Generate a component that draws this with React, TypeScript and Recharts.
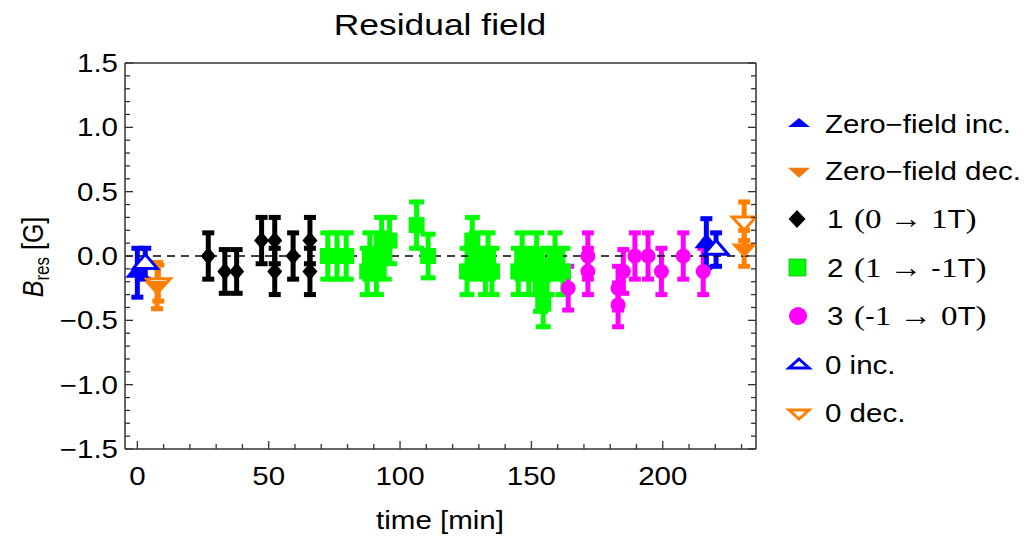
import React from "react";
import {
  ScatterChart,
  Scatter,
  XAxis,
  YAxis,
  ErrorBar,
  ReferenceLine,
  Legend,
} from "recharts";

// Residual field B_res [G] vs time [min]; each row is [time, B_res, error]
const ZERO_FIELD_INC: number[][] = [
  [0, -0.13, 0.19],
  [216.6, 0.1, 0.19],
];
const ZERO_FIELD_DEC: number[][] = [
  [7.5, -0.23, 0.18],
  [231, 0.06, 0.14],
];
const RAMP_1: number[][] = [
  [27, 0, 0.18], [33.3, -0.12, 0.17], [37.8, -0.12, 0.17],
  [47.3, 0.12, 0.18], [52.3, 0.12, 0.18], [52.3, -0.12, 0.18],
  [59.3, 0, 0.18], [65.7, 0.12, 0.18], [65.7, -0.12, 0.18],
];
const RAMP_2: number[][] = [
  [72.5, 0, 0.18], [76, 0, 0.18], [79.5, 0, 0.18],
  [87.5, -0.12, 0.18], [88.5, 0, 0.18], [91, -0.12, 0.18],
  [93, 0.12, 0.18], [94, 0, 0.18], [96, 0.12, 0.18],
  [106.3, 0.24, 0.18], [110.7, 0, 0.17],
  [125.5, -0.12, 0.18], [127.5, 0.12, 0.18], [129, 0, 0.18],
  [132.5, -0.12, 0.18], [133.5, 0, 0.18], [135, -0.12, 0.18],
  [145, -0.12, 0.18], [146.5, 0, 0.18], [149, -0.12, 0.18],
  [152, 0, 0.18], [153.5, -0.25, 0.18], [154.5, -0.37, 0.18],
  [156, -0.12, 0.18], [159, 0, 0.18], [162, -0.12, 0.18],
];
const RAMP_3: number[][] = [
  [164, -0.25, 0.17], [171.5, 0, 0.18], [171.5, -0.12, 0.18],
  [183, -0.25, 0.17], [183, -0.38, 0.17], [185, -0.12, 0.17],
  [189.4, 0, 0.18], [194.4, 0, 0.18], [199.5, -0.12, 0.18],
  [207.8, 0, 0.18], [215.4, -0.12, 0.18],
];
const ZERO_INC: number[][] = [
  [3, -0.06, 0.12],
  [220.3, 0.05, 0.13],
];
const ZERO_DEC: number[][] = [
  [8, -0.21, 0.14],
  [231, 0.27, 0.15],
];

const X_TICKS = [0, 10, 20, 30, 40, 50, 60, 70, 80, 90, 100, 110, 120, 130, 140, 150, 160, 170, 180, 190, 200, 210, 220, 230];
const X_MAJOR = [0, 50, 100, 150, 200];
const Y_TICKS = [
  -1.5, -1.4, -1.3, -1.2, -1.1, -1.0, -0.9, -0.8, -0.7, -0.6, -0.5, -0.4, -0.3, -0.2, -0.1,
  0, 0.1, 0.2, 0.3, 0.4, 0.5, 0.6, 0.7, 0.8, 0.9, 1.0, 1.1, 1.2, 1.3, 1.4, 1.5,
];
const Y_MAJOR = [-1.5, -1.0, -0.5, 0, 0.5, 1.0, 1.5];
const Y_LABELS = ["−1.5", "−1.0", "−0.5", "0.0", "0.5", "1.0", "1.5"];

const SANS = "'Liberation Sans', Arial, Helvetica, sans-serif";
const SERIF = "'Liberation Serif', 'Times New Roman', serif";
const SX = 1.18; // source picture is a bit stretched horizontally
const FRAME = "#333";

const BLUE = "#0000ff";
const ORANGE = "#ff8000";
const GREEN = "#00ff00";
const MAGENTA = "#ff00ff";

const toPoints = (rows: number[][]) => rows.map(([t, b, e]) => ({ t, b, e }));

function SText({ x, y, size, anchor = "start", family = SANS, children }: any) {
  return (
    <text
      transform={`translate(${x} ${y}) scale(${SX} 1)`}
      textAnchor={anchor}
      fontSize={size}
      fontFamily={family}
      fill="#000"
    >
      {children}
    </text>
  );
}

// ---- markers ----
function Tri({ cx, cy, up, w, h, color, open }: any) {
  const d = up
    ? `M${cx},${cy - (2 * h) / 3} L${cx + w},${cy + h / 3} L${cx - w},${cy + h / 3} Z`
    : `M${cx},${cy + (2 * h) / 3} L${cx + w},${cy - h / 3} L${cx - w},${cy - h / 3} Z`;
  return open ? (
    <path d={d} fill="#fff" stroke={color} strokeWidth={3} strokeLinejoin="miter" />
  ) : (
    <path d={d} fill={color} />
  );
}
function Diamond({ cx, cy, w, h, color }: any) {
  return <path d={`M${cx},${cy - h} L${cx + w},${cy} L${cx},${cy + h} L${cx - w},${cy} Z`} fill={color} />;
}
function Square({ cx, cy, s, color }: any) {
  return <rect x={cx - s / 2} y={cy - s / 2} width={s} height={s} fill={color} />;
}
function Dot({ cx, cy, r, color }: any) {
  return <circle cx={cx} cy={cy} r={r} fill={color} />;
}

// ---- ticks drawn inward, like a framed plot ----
function BottomTick({ x, y, payload }: any) {
  const major = X_MAJOR.includes(payload.value);
  return (
    <g>
      <line x1={x} x2={x} y1={y} y2={y - (major ? 8 : 5)} stroke={FRAME} strokeWidth={1.3} />
      {major && (
        <SText x={x} y={y + 36} size={25} anchor="middle">
          {payload.value}
        </SText>
      )}
    </g>
  );
}
function TopTick({ x, y, payload }: any) {
  const major = X_MAJOR.includes(payload.value);
  return <line x1={x} x2={x} y1={y} y2={y + (major ? 8 : 5)} stroke={FRAME} strokeWidth={1.3} />;
}
function yMajorIndex(v: number) {
  return Y_MAJOR.findIndex((m) => Math.abs(m - v) < 1e-6);
}
function LeftTick({ x, y, payload }: any) {
  const i = yMajorIndex(payload.value);
  return (
    <g>
      <line x1={x} x2={x + (i >= 0 ? 8 : 5)} y1={y} y2={y} stroke={FRAME} strokeWidth={1.3} />
      {i >= 0 && (
        <SText x={x - 7} y={y + 9} size={25} anchor="end">
          {Y_LABELS[i]}
        </SText>
      )}
    </g>
  );
}
function RightTick({ x, y, payload }: any) {
  const i = yMajorIndex(payload.value);
  return <line x1={x} x2={x - (i >= 0 ? 8 : 5)} y1={y} y2={y} stroke={FRAME} strokeWidth={1.3} />;
}

// ---- legend ----
const LEGEND_ROWS = [33, 80, 128, 177, 225, 274, 322];

function LegendContent() {
  const mx = 21;
  const tx = 47;
  const r = LEGEND_ROWS;
  return (
    <svg width={251} height={340} style={{ overflow: "visible" }}>
      <Tri cx={mx} cy={r[0] - 9} up w={11} h={9} color={BLUE} />
      <SText x={tx} y={r[0]} size={25}>Zero−field inc.</SText>

      <Tri cx={mx} cy={r[1] - 9} w={11} h={10} color="#f07a10" />
      <SText x={tx} y={r[1]} size={25}>Zero−field dec.</SText>

      <Diamond cx={mx - 2} cy={r[2] - 9} w={8.5} h={9} color="#000" />
      <SText x={tx + 2} y={r[2]} size={25}>
        1<tspan dx={9} fontFamily={SERIF} fontSize={28}>(0 → 1</tspan>T<tspan fontFamily={SERIF} fontSize={28}>)</tspan>
      </SText>

      <rect x={mx - 10} y={r[3] - 18} width={17} height={17} fill={GREEN} stroke="#20b020" strokeWidth={0.8} />
      <SText x={tx + 2} y={r[3]} size={25}>
        2<tspan dx={9} fontFamily={SERIF} fontSize={28}>(1 → </tspan>-<tspan fontFamily={SERIF} fontSize={28}>1</tspan>T<tspan fontFamily={SERIF} fontSize={28}>)</tspan>
      </SText>

      <Dot cx={mx - 1} cy={r[4] - 9} r={9} color={MAGENTA} />
      <SText x={tx + 2} y={r[4]} size={25}>
        3<tspan dx={9} fontFamily={SERIF} fontSize={28}>(</tspan>-<tspan fontFamily={SERIF} fontSize={28}>1 → 0</tspan>T<tspan fontFamily={SERIF} fontSize={28}>)</tspan>
      </SText>

      <Tri cx={mx} cy={r[5] - 9} up w={10} h={9} color={BLUE} open />
      <SText x={tx} y={r[5]} size={25}>0 inc.</SText>

      <Tri cx={mx} cy={r[6] - 9} w={10} h={9} color={ORANGE} open />
      <SText x={tx} y={r[6]} size={25}>0 dec.</SText>
    </svg>
  );
}

export default function App() {
  return (
    <div style={{ position: "absolute", left: 0, top: 0, width: 1029, height: 543, background: "#fff" }}>
      <ScatterChart width={1029} height={543} margin={{ top: 62, right: 272, bottom: 54, left: 65 }}>
        <XAxis
          dataKey="t"
          type="number"
          domain={[-4.7, 235.5]}
          ticks={X_TICKS}
          interval={0}
          allowDataOverflow
          height={40}
          tickSize={0}
          tickMargin={0}
          axisLine={{ stroke: FRAME, strokeWidth: 1.5 }}
          tick={(p: any) => <BottomTick {...p} />}
        />
        <XAxis
          xAxisId="top"
          orientation="top"
          type="number"
          domain={[-4.7, 235.5]}
          ticks={X_TICKS}
          interval={0}
          allowDataOverflow
          height={1}
          tickSize={0}
          tickMargin={0}
          axisLine={{ stroke: FRAME, strokeWidth: 1.5 }}
          tick={(p: any) => <TopTick {...p} />}
        />
        <YAxis
          dataKey="b"
          type="number"
          domain={[-1.5, 1.5]}
          ticks={Y_TICKS}
          interval={0}
          allowDataOverflow
          width={60}
          tickSize={0}
          tickMargin={0}
          axisLine={{ stroke: FRAME, strokeWidth: 1.5 }}
          tick={(p: any) => <LeftTick {...p} />}
        />
        <YAxis
          yAxisId="right"
          orientation="right"
          type="number"
          domain={[-1.5, 1.5]}
          ticks={Y_TICKS}
          interval={0}
          allowDataOverflow
          width={1}
          tickSize={0}
          tickMargin={0}
          axisLine={{ stroke: FRAME, strokeWidth: 1.5 }}
          tick={(p: any) => <RightTick {...p} />}
        />

        <Scatter
          name="1 (0 → 1T)"
          data={toPoints(RAMP_1)}
          isAnimationActive={false}
          shape={(p: any) => <Diamond cx={p.cx} cy={p.cy} w={7.5} h={9} color="#000" />}
        >
          <ErrorBar dataKey="e" direction="y" width={6} stroke="#000" strokeWidth={5} />
        </Scatter>
        <Scatter
          name="2 (1 → -1T)"
          data={toPoints(RAMP_2)}
          isAnimationActive={false}
          shape={(p: any) => <Square cx={p.cx} cy={p.cy} s={16} color={GREEN} />}
        >
          <ErrorBar dataKey="e" direction="y" width={7.5} stroke={GREEN} strokeWidth={5} />
        </Scatter>
        <Scatter
          name="3 (-1 → 0T)"
          data={toPoints(RAMP_3)}
          isAnimationActive={false}
          shape={(p: any) => <Dot cx={p.cx} cy={p.cy} r={7.5} color={MAGENTA} />}
        >
          <ErrorBar dataKey="e" direction="y" width={6} stroke={MAGENTA} strokeWidth={5} />
        </Scatter>
        <Scatter
          name="0 dec."
          data={toPoints(ZERO_DEC)}
          isAnimationActive={false}
          shape={(p: any) => <Tri cx={p.cx} cy={p.cy} w={12} h={13} color={ORANGE} open />}
        >
          <ErrorBar dataKey="e" direction="y" width={6} stroke={ORANGE} strokeWidth={5} />
        </Scatter>
        <Scatter
          name="Zero-field inc."
          data={toPoints(ZERO_FIELD_INC)}
          isAnimationActive={false}
          shape={(p: any) => <Tri cx={p.cx} cy={p.cy} up w={12} h={15} color={BLUE} />}
        >
          <ErrorBar dataKey="e" direction="y" width={6} stroke={BLUE} strokeWidth={5} />
        </Scatter>
        <Scatter
          name="0 inc."
          data={toPoints(ZERO_INC)}
          isAnimationActive={false}
          shape={(p: any) => <Tri cx={p.cx} cy={p.cy} up w={12} h={14} color={BLUE} open />}
        >
          <ErrorBar dataKey="e" direction="y" width={6} stroke={BLUE} strokeWidth={5} />
        </Scatter>
        <Scatter
          name="Zero-field dec."
          data={toPoints(ZERO_FIELD_DEC)}
          isAnimationActive={false}
          shape={(p: any) => <Tri cx={p.cx} cy={p.cy} w={13} h={14} color={ORANGE} />}
        >
          <ErrorBar dataKey="e" direction="y" width={6} stroke={ORANGE} strokeWidth={5} />
        </Scatter>

        <ReferenceLine y={0} stroke="#000" strokeWidth={1.5} strokeDasharray="8 6" />

        <Legend
          layout="vertical"
          align="center"
          verticalAlign="middle"
          content={() => <LegendContent />}
          wrapperStyle={{ left: 778, top: 100, width: 251, height: 340 }}
        />

        <SText x={440} y={35} size={30} anchor="middle">Residual field</SText>
        <SText x={440} y={529} size={25} anchor="middle">time [min]</SText>
        <text
          transform="translate(43 257) rotate(-90) scale(1 1.18)"
          textAnchor="middle"
          fontSize={25}
          fontFamily={SANS}
          fill="#000"
        >
          <tspan fontStyle="italic">B</tspan>
          <tspan fontSize={17} dy={5}>res</tspan>
          <tspan dy={-5}> [G]</tspan>
        </text>
      </ScatterChart>
    </div>
  );
}
